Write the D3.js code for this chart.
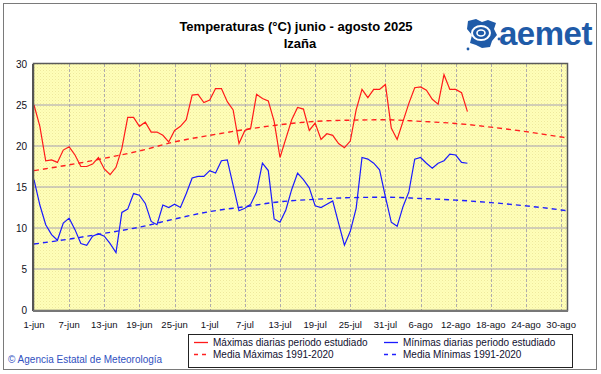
<!DOCTYPE html>
<html>
<head>
<meta charset="utf-8">
<script src="https://cdn.jsdelivr.net/npm/d3@7"></script>
<style>
  body { margin: 0; background: #fff; }
  svg { display: block; font-family: "Liberation Sans", Arial, sans-serif; }
</style>
</head>
<body>
<div id="chart"></div>
<script>

// ======================= //
// DATA
// ======================= //

// day index 0 = 1-jun ... 91 = 31-ago
var tickDays = [0, 6, 12, 18, 24, 30, 36, 42, 48, 54, 60, 66, 72, 78, 84, 90]
var tickLabels = ["1-jun","7-jun","13-jun","19-jun","25-jun","1-jul","7-jul","13-jul","19-jul","25-jul","31-jul","6-ago","12-ago","18-ago","24-ago","30-ago"]
var yTicks = [0, 5, 10, 15, 20, 25, 30]

// daily maxima, 1-jun .. 14-ago
var maxDaily = [25.0, 22.4, 18.2, 18.3, 18.0, 19.5, 19.9, 18.9, 17.5, 17.5,
  17.8, 18.6, 17.2, 16.5, 17.4, 19.7, 23.5, 23.5, 22.4, 22.9,
  21.7, 21.7, 21.3, 20.5, 21.9, 22.4, 23.2, 26.2, 26.3, 25.3,
  25.6, 27.0, 27.0, 25.4, 24.4, 20.3, 21.9, 22.2, 26.3, 25.8,
  25.5, 23.0, 18.6, 20.9, 23.2, 24.7, 24.5, 21.9, 22.8, 20.8,
  21.5, 21.3, 20.3, 19.8, 20.6, 24.4, 26.9, 25.9, 26.9, 26.9,
  27.5, 22.2, 20.8, 23.0, 25.2, 27.1, 27.2, 26.8, 25.7, 25.1,
  28.7, 26.9, 26.9, 26.5, 24.2]

// daily minima, 1-jun .. 14-ago
var minDaily = [15.9, 12.8, 10.4, 9.2, 8.5, 10.6, 11.2, 9.8, 8.1, 7.9,
  9.0, 9.3, 9.0, 8.1, 7.0, 11.9, 12.3, 14.2, 14.0, 13.0,
  10.8, 10.4, 12.8, 12.5, 12.9, 12.5, 14.2, 16.1, 16.3, 16.3,
  17.0, 16.7, 18.2, 18.3, 15.2, 12.1, 12.4, 12.9, 14.4, 17.9,
  17.0, 11.1, 10.7, 12.2, 14.7, 16.7, 15.9, 14.9, 12.7, 12.5,
  12.9, 13.3, 10.6, 7.9, 9.6, 12.4, 18.6, 18.4, 17.9, 17.1,
  13.8, 10.7, 10.2, 12.6, 14.4, 18.4, 18.6, 17.9, 17.3, 17.9,
  18.2, 19.0, 18.9, 18.0, 17.9]

// 1991-2020 means, read every 6 days
var meanDays = [0, 6, 12, 18, 24, 30, 36, 42, 48, 54, 60, 66, 72, 78, 84, 90, 91]
var meanMax = [17.0, 17.7, 18.5, 19.4, 20.5, 21.3, 22.0, 22.6, 23.0, 23.15, 23.2, 23.0, 22.75, 22.3, 21.75, 21.1, 21.0]
var meanMin = [8.05, 8.65, 9.35, 10.1, 11.1, 12.0, 12.6, 13.2, 13.5, 13.7, 13.75, 13.6, 13.4, 13.1, 12.7, 12.2, 12.1]

var legendLabels = ["Máximas diarias periodo estudiado", "Mínimas diarias periodo estudiado",
                    "Media Máximas 1991-2020", "Media Mínimas 1991-2020"]

// ======================= //
// SVG
// ======================= //

var W = 601, H = 374
var margin = {top: 64, left: 34, right: 34, bottom: 64}
var width = 567 - margin.left,
    height = 310 - margin.top

var root = d3.select("#chart").append("svg")
  .attr("width", W).attr("height", H)

// outer frame
root.append("rect")
  .attr("x", 3.5).attr("y", 3.5).attr("width", 593).attr("height", 366)
  .attr("fill", "none").attr("stroke", "#7a7a7a").attr("stroke-width", 1)

// dotted yellow background
var defs = root.append("defs")
var pat = defs.append("pattern").attr("id", "dots")
  .attr("width", 3).attr("height", 3).attr("patternUnits", "userSpaceOnUse")
pat.append("rect").attr("width", 3).attr("height", 3).attr("fill", "#ffffb8")
pat.append("rect").attr("x", 0).attr("y", 0).attr("width", 1).attr("height", 1).attr("fill", "#eee89e")
pat.append("rect").attr("x", 1.5).attr("y", 1.5).attr("width", 1).attr("height", 1).attr("fill", "#f6f1ac")

var svg = root.append("g")
  .attr("transform", "translate(" + margin.left + "," + margin.top + ")")

// ======================= //
// SCALES
// ======================= //

var x = d3.scaleLinear().domain([0, 91]).range([0, width])
var y = d3.scaleLinear().domain([0, 30]).range([height, 0])

svg.append("rect")
  .attr("width", width).attr("height", height)
  .attr("fill", "url(#dots)")

// horizontal grid
svg.selectAll("hGrid")
  .data(yTicks.slice(1, -1))
  .enter().append("line")
    .attr("x1", 0).attr("x2", width)
    .attr("y1", function(d){ return y(d) }).attr("y2", function(d){ return y(d) })
    .attr("stroke", "#a49eb4").attr("stroke-width", 1)

// vertical grid (dashed)
svg.selectAll("vGrid")
  .data(tickDays.slice(1))
  .enter().append("line")
    .attr("x1", function(d){ return Math.round(x(d)) + 0.5 }).attr("x2", function(d){ return Math.round(x(d)) + 0.5 })
    .attr("y1", 0).attr("y2", height)
    .attr("stroke", "#b0acac").attr("stroke-width", 1)
    .style("stroke-dasharray", "3,2")

// ======================= //
// LINES
// ======================= //

var daily = d3.line()
  .x(function(d, i){ return x(i) })
  .y(function(d){ return y(d) })

var smooth = d3.line()
  .x(function(d, i){ return x(meanDays[i]) })
  .y(function(d){ return y(d) })
  .curve(d3.curveMonotoneX)

svg.append("path").datum(meanMax)
  .attr("d", smooth).attr("fill", "none")
  .attr("stroke", "#ff2020").attr("stroke-width", 1.4).style("stroke-dasharray", "5,4")
svg.append("path").datum(meanMin)
  .attr("d", smooth).attr("fill", "none")
  .attr("stroke", "#2020ff").attr("stroke-width", 1.4).style("stroke-dasharray", "5,4")

svg.append("path").datum(maxDaily)
  .attr("d", daily).attr("fill", "none")
  .attr("stroke", "#ff1a1a").attr("stroke-width", 1.2)
svg.append("path").datum(minDaily)
  .attr("d", daily).attr("fill", "none")
  .attr("stroke", "#1a1aff").attr("stroke-width", 1.2)

// plot border
svg.append("rect")
  .attr("x", -0.5).attr("y", -0.5).attr("width", width + 1).attr("height", height + 1)
  .attr("fill", "none").attr("stroke", "#5a5a5a").attr("stroke-width", 1.5)
svg.append("line")
  .attr("x1", -1).attr("x2", -1).attr("y1", 0).attr("y2", height + 1)
  .attr("stroke", "#555").attr("stroke-width", 2)
svg.append("line")
  .attr("x1", -1).attr("x2", width + 1).attr("y1", height + 1).attr("y2", height + 1)
  .attr("stroke", "#777").attr("stroke-width", 2)

// ======================= //
// AXIS LABELS
// ======================= //

svg.selectAll("yLabels")
  .data(yTicks)
  .enter().append("text")
    .attr("x", -7)
    .attr("y", function(d){ return y(d) + 3.5 })
    .text(function(d){ return d })
    .style("font-size", 10).style("fill", "#101020")
    .style("text-anchor", "end")

svg.selectAll("xLabels")
  .data(tickDays)
  .enter().append("text")
    .attr("x", function(d){ return x(d) })
    .attr("y", height + 18)
    .text(function(d, i){ return tickLabels[i] })
    .style("font-size", 9.5).style("fill", "#101020")
    .style("text-anchor", "middle")

// ======================= //
// TITLE + LOGO
// ======================= //

root.append("text")
  .attr("x", 296).attr("y", 31)
  .attr("text-anchor", "middle")
  .style("font-size", 13).style("font-weight", "bold")
  .text("Temperaturas (°C) junio - agosto 2025")
root.append("text")
  .attr("x", 300).attr("y", 48)
  .attr("text-anchor", "middle")
  .style("font-size", 13).style("font-weight", "bold")
  .text("Izaña")

var logo = root.append("g").attr("transform", "translate(466,17)")
var blue = "#1f5ba8"
logo.append("path")
  .attr("d", "M2,4 L10,2 L16,5 L22,3 L30,6 L28,12 L31,18 L26,24 L24,30 L16,31 L10,28 L4,26 L6,18 L1,12 Z")
  .attr("fill", blue)
logo.append("ellipse").attr("cx", 15).attr("cy", 16).attr("rx", 9).attr("ry", 7)
  .attr("fill", "none").attr("stroke", "#fff").attr("stroke-width", 2)
logo.append("ellipse").attr("cx", 15).attr("cy", 16).attr("rx", 4).attr("ry", 3)
  .attr("fill", "none").attr("stroke", "#fff").attr("stroke-width", 1.6)
logo.append("circle").attr("cx", 2).attr("cy", 32).attr("r", 1.4).attr("fill", blue)
logo.append("circle").attr("cx", 33).attr("cy", 22).attr("r", 1.4).attr("fill", blue)
root.append("text")
  .attr("x", 499).attr("y", 45)
  .style("font-size", 33).style("font-weight", "bold").style("fill", blue)
  .style("letter-spacing", "-0.5px")
  .text("aemet")

// ======================= //
// LEGEND + FOOTER
// ======================= //

var lg = root.append("g").attr("transform", "translate(188,334)")
lg.append("rect").attr("x", 0.5).attr("y", 0.5).attr("width", 384).attr("height", 33)
  .attr("fill", "#fff").attr("stroke", "#222").attr("stroke-width", 1)

var legendColors = ["#ff1a1a", "#1a1aff", "#ff2020", "#2020ff"]
var legendDash = [null, null, "4,4", "4,4"]
var legendPos = [[6, 12], [196, 12], [6, 24], [196, 24]]

legendLabels.forEach(function(lab, i){
  var p = legendPos[i]
  lg.append("line")
    .attr("x1", p[0]).attr("x2", p[0] + 14)
    .attr("y1", p[1] - 3.5).attr("y2", p[1] - 3.5)
    .attr("stroke", legendColors[i]).attr("stroke-width", 1.3)
    .style("stroke-dasharray", legendDash[i])
  lg.append("text")
    .attr("x", p[0] + 19).attr("y", p[1])
    .style("font-size", 10).style("fill", "#101030")
    .text(lab)
})

root.append("text")
  .attr("x", 8).attr("y", 363)
  .style("font-size", 10).style("fill", "#3050c0")
  .text("© Agencia Estatal de Meteorología")

</script>
</body>
</html>
